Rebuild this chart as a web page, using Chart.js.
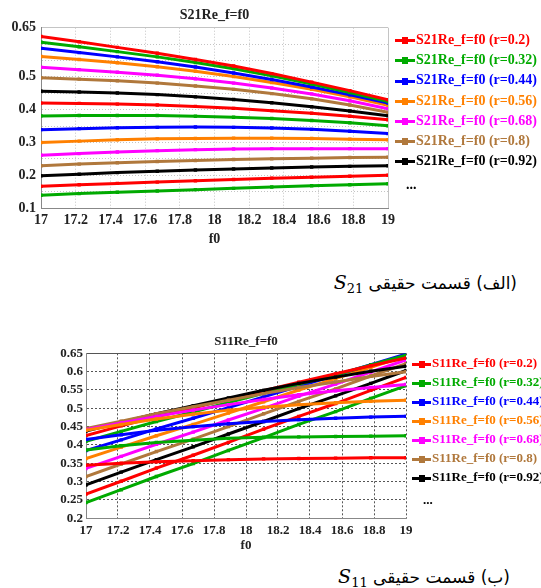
<!DOCTYPE html>
<html>
<head>
<meta charset="utf-8">
<script src="https://cdn.jsdelivr.net/npm/chart.js@4.4.0/dist/chart.umd.min.js"></script>
<style>
html, body { margin:0; padding:0; background:#fff; }
body { width:541px; height:588px; position:relative; overflow:hidden; }
canvas { position:absolute; left:0; }
.legend { position:absolute; font-family:"Liberation Serif", serif; font-weight:bold; white-space:nowrap; }
.legend .item { position:absolute; left:0; }
.mk { display:inline-block; position:relative; height:3px; vertical-align:middle; margin-right:1px; }
.mk i { position:absolute; top:-2px; width:6px; height:7px; }
.cap { position:absolute; font-family:"DejaVu Sans", sans-serif; font-size:17px; direction:rtl; white-space:nowrap; line-height:24px; }
.cap .s { font-family:"DejaVu Serif", serif; font-style:italic; font-size:19px; }
.cap sub { font-family:"DejaVu Serif", serif; font-size:13px; vertical-align:-4px; line-height:0; }
</style>
</head>
<body>
<canvas id="c21" width="541" height="250" style="top:0"></canvas>
<div class="legend" id="leg21" style="left:395px; top:30px; font-size:14px"></div>
<div class="cap" style="right:24px; top:270px">(الف) قسمت حقیقی <span class="s">S</span><sub>21</sub></div>

<canvas id="c11" width="541" height="225" style="top:330px"></canvas>
<div class="legend" id="leg11" style="left:412px; top:353px; font-size:13px"></div>
<div class="cap" style="right:31px; top:564px">(ب) قسمت حقیقی <span class="s">S</span><sub>11</sub></div>

<script>
// sweep points along f0
const f0 = [17, 17.22, 17.44, 17.67, 17.89, 18.11, 18.33, 18.56, 18.78, 19];
const xTicks = [17, 17.2, 17.4, 17.6, 17.8, 18, 18.2, 18.4, 18.6, 18.8, 19];

// r values shown in the legend (the rest is "...")
const rShown = [0.2, 0.32, 0.44, 0.56, 0.68, 0.8, 0.92];
const colors = ['#ff0000', '#00aa00', '#0000ff', '#ff8000', '#ff00ff', '#b0783c', '#000000'];

// S21 real part, one row per r
const s21Re = [
  [0.623, 0.607, 0.590, 0.572, 0.553, 0.533, 0.510, 0.484, 0.458, 0.430],
  [0.606, 0.592, 0.577, 0.561, 0.544, 0.525, 0.503, 0.478, 0.452, 0.425],
  [0.587, 0.574, 0.561, 0.546, 0.530, 0.512, 0.492, 0.469, 0.445, 0.420],
  [0.562, 0.553, 0.543, 0.531, 0.517, 0.501, 0.483, 0.462, 0.439, 0.413],
  [0.529, 0.522, 0.514, 0.505, 0.494, 0.481, 0.466, 0.448, 0.427, 0.403],
  [0.497, 0.493, 0.488, 0.481, 0.472, 0.462, 0.449, 0.433, 0.414, 0.392],
  [0.456, 0.454, 0.451, 0.446, 0.439, 0.431, 0.421, 0.409, 0.396, 0.381],
  [0.420, 0.419, 0.417, 0.414, 0.410, 0.404, 0.397, 0.389, 0.380, 0.369],
  [0.381, 0.382, 0.382, 0.382, 0.380, 0.377, 0.373, 0.367, 0.360, 0.351],
  [0.339, 0.342, 0.345, 0.346, 0.347, 0.346, 0.344, 0.340, 0.334, 0.327],
  [0.300, 0.304, 0.308, 0.311, 0.312, 0.313, 0.313, 0.312, 0.310, 0.308],
  [0.261, 0.266, 0.271, 0.275, 0.278, 0.280, 0.281, 0.281, 0.281, 0.281],
  [0.229, 0.234, 0.238, 0.242, 0.245, 0.248, 0.250, 0.252, 0.254, 0.255],
  [0.198, 0.203, 0.208, 0.212, 0.216, 0.219, 0.222, 0.225, 0.227, 0.229],
  [0.166, 0.171, 0.175, 0.179, 0.183, 0.187, 0.191, 0.194, 0.197, 0.200],
  [0.139, 0.144, 0.148, 0.152, 0.156, 0.160, 0.164, 0.168, 0.171, 0.174]
];

// S11 real part, one row per r
const s11Re = [
  [0.345, 0.350, 0.354, 0.357, 0.360, 0.362, 0.363, 0.364, 0.365, 0.365],
  [0.386, 0.398, 0.407, 0.413, 0.418, 0.421, 0.422, 0.423, 0.424, 0.425],
  [0.415, 0.428, 0.440, 0.450, 0.458, 0.464, 0.469, 0.473, 0.476, 0.478],
  [0.440, 0.456, 0.471, 0.484, 0.495, 0.503, 0.510, 0.515, 0.519, 0.522],
  [0.442, 0.460, 0.478, 0.495, 0.510, 0.524, 0.537, 0.548, 0.557, 0.565],
  [0.445, 0.465, 0.485, 0.504, 0.522, 0.540, 0.557, 0.572, 0.587, 0.600],
  [0.438, 0.462, 0.485, 0.507, 0.528, 0.549, 0.568, 0.585, 0.601, 0.615],
  [0.426, 0.452, 0.477, 0.501, 0.525, 0.548, 0.571, 0.594, 0.616, 0.637],
  [0.410, 0.437, 0.464, 0.490, 0.516, 0.541, 0.566, 0.591, 0.618, 0.645],
  [0.385, 0.414, 0.444, 0.473, 0.502, 0.531, 0.560, 0.590, 0.619, 0.648],
  [0.363, 0.394, 0.425, 0.456, 0.487, 0.518, 0.550, 0.581, 0.612, 0.643],
  [0.336, 0.369, 0.402, 0.435, 0.468, 0.500, 0.533, 0.566, 0.599, 0.632],
  [0.314, 0.348, 0.382, 0.416, 0.450, 0.485, 0.519, 0.553, 0.588, 0.622],
  [0.291, 0.326, 0.360, 0.395, 0.430, 0.464, 0.499, 0.534, 0.568, 0.603],
  [0.266, 0.301, 0.337, 0.372, 0.407, 0.443, 0.478, 0.513, 0.549, 0.584],
  [0.243, 0.278, 0.314, 0.349, 0.385, 0.420, 0.456, 0.491, 0.527, 0.562]
];

const yTicks21 = [0.1, 0.15, 0.2, 0.25, 0.3, 0.35, 0.4, 0.45, 0.5, 0.55, 0.6, 0.65];
const yLabels21 = [0.1, 0.2, 0.3, 0.4, 0.5, 0.65];
const yTicks11 = [0.2, 0.25, 0.3, 0.35, 0.4, 0.45, 0.5, 0.55, 0.6, 0.65];

const serif = "'Liberation Serif', 'Times New Roman', serif";

function near(a, list) {
  return list.some(v => Math.abs(v - a) < 1e-6);
}

function makeChart(id, rows, o) {
  const datasets = rows.map((row, k) => ({
    data: f0.map((x, i) => ({ x: x, y: row[i] })),
    borderColor: colors[k % 7],
    backgroundColor: colors[k % 7],
    borderWidth: 3,
    pointStyle: 'rect',
    pointRadius: 2.4,
    pointBorderWidth: 0,
    tension: 0
  }));

  return new Chart(document.getElementById(id), {
    type: 'line',
    data: { datasets: datasets },
    options: {
      responsive: false,
      animation: false,
      devicePixelRatio: 1,
      layout: { padding: { left: 0, right: o.padRight, top: 0, bottom: 0 } },
      plugins: {
        legend: { display: false },
        tooltip: { enabled: false },
        title: {
          display: true,
          text: o.title,
          fullSize: false,
          color: '#222',
          font: { family: serif, size: o.titleSize, weight: 'bold' },
          padding: o.titlePad
        }
      },
      scales: {
        x: {
          type: 'linear',
          min: 17, max: 19,
          afterBuildTicks: s => { s.ticks = xTicks.map(v => ({ value: v })); },
          afterFit: s => { s.height = o.xHeight; },
          ticks: {
            color: '#222',
            padding: o.xPad,
            maxRotation: 0,
            autoSkip: false,
            font: { family: serif, size: o.tickSize, weight: 'bold' },
            callback: v => String(v)
          },
          title: {
            display: true,
            text: 'f0',
            color: '#222',
            font: { family: serif, size: o.tickSize, weight: 'bold' },
            padding: { top: 0, bottom: o.f0Pad }
          },
          grid: { color: o.gridColor, drawTicks: false, lineWidth: 1 },
          border: {
            color: '#888', width: 1,
            dash: c => (c.tick && c.tick.value === 19 && o.solidEdge) ? [] : o.dash
          }
        },
        y: {
          min: o.yMin, max: 0.65,
          afterBuildTicks: s => { s.ticks = o.yTicks.map(v => ({ value: v })); },
          afterFit: s => { s.width = o.yWidth; },
          ticks: {
            color: '#222',
            padding: o.yPad,
            autoSkip: false,
            font: { family: serif, size: o.tickSize, weight: 'bold' },
            callback: v => near(v, o.yLabels) ? String(v) : ''
          },
          grid: { color: o.gridColor, drawTicks: false, lineWidth: 1 },
          border: {
            color: '#888', width: 1,
            dash: c => (c.tick && Math.abs(c.tick.value - 0.65) < 1e-6) ? [] : o.dash
          }
        }
      }
    }
  });
}

makeChart('c21', s21Re, {
  title: 'S21Re_f=f0', titleSize: 14, titlePad: { top: 6.6, bottom: 4.3 },
  padRight: 153, yWidth: 41, xHeight: 42, xPad: 4.3, yPad: 5, f0Pad: 2.3,
  tickSize: 14, yMin: 0.1, yTicks: yTicks21, yLabels: yLabels21,
  gridColor: '#c4c4c4', dash: [1, 2], solidEdge: true
});

makeChart('c11', s11Re, {
  title: 'S11Re_f=f0', titleSize: 13, titlePad: { top: 4.2, bottom: 3.5 },
  padRight: 135, yWidth: 86, xHeight: 36.7, xPad: 5, yPad: 3, f0Pad: 1.2,
  tickSize: 13, yMin: 0.2, yTicks: yTicks11, yLabels: yTicks11,
  gridColor: '#555', dash: [2, 2], solidEdge: false
});

// html legends: first seven r values then "..."
function buildLegend(id, name, step, lineW) {
  const box = document.getElementById(id);
  rShown.forEach((r, i) => {
    const d = document.createElement('div');
    d.className = 'item';
    d.style.top = (i * step) + 'px';
    d.style.height = step + 'px';
    d.style.lineHeight = step + 'px';
    d.style.color = colors[i];
    d.innerHTML = '<span class="mk" style="width:' + lineW + 'px;background:' + colors[i] +
      '"><i style="left:' + (lineW / 2 - 3) + 'px;background:' + colors[i] + '"></i></span>' +
      name + ' (r=' + r + ')';
    box.appendChild(d);
  });
  const dots = document.createElement('div');
  dots.className = 'item';
  dots.style.top = (7.2 * step) + 'px';
  dots.style.left = '11px';
  dots.style.lineHeight = step + 'px';
  dots.textContent = '...';
  box.appendChild(dots);
}

buildLegend('leg21', 'S21Re_f=f0', 20.2, 20);
buildLegend('leg11', 'S11Re_f=f0', 19.05, 19);
</script>
</body>
</html>
